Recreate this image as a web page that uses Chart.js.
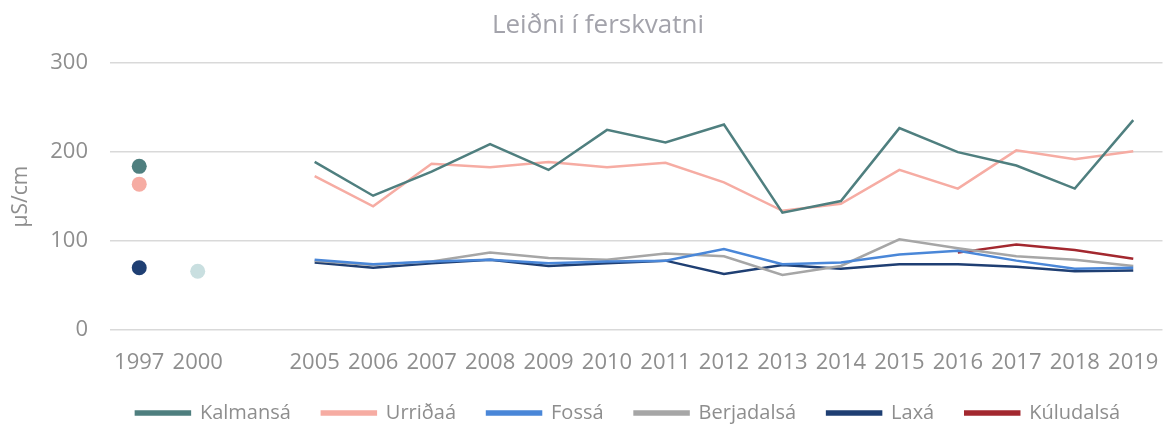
<!DOCTYPE html>
<html>
<head>
<meta charset="utf-8">
<script src="https://cdn.jsdelivr.net/npm/chart.js@4"></script>
<style>
  html, body { margin: 0; padding: 0; background: #fff; }
  #wrap { width: 1170px; height: 425px; }
</style>
</head>
<body>
<div id="wrap"><canvas id="chart_leidni"></canvas></div>
<script>
// ár, bil á milli 2000 og 2005 er autt sæti
const years = ['1997', '2000', '', '2005', '2006', '2007', '2008', '2009', '2010', '2011', '2012', '2013', '2014', '2015', '2016', '2017', '2018', '2019'];

const kalmansa   = [184, null, null, 189, 151, 178, 209, 180, 225, 211, 231, 132, 145, 227, 200, 185, 159, 236];
const urridaa    = [164, null, null, 173, 139, 187, 183, 189, 183, 188, 166, 134, 142, 180, 159, 202, 192, 201];
const fossa      = [null, null, null, 79, 74, 77, 79, 75, 77, 78, 91, 74, 76, 85, 89, 78, 69, 70];
const berjadalsa = [null, null, null, 78, 73, 77, 87, 81, 79, 86, 83, 62, 72, 102, 92, 83, 79, 72];
const laxa       = [70, null, null, 76, 70, 75, 79, 72, 75, 78, 63, 73, 69, 74, 74, 71, 66, 67];
const kuludalsa  = [null, null, null, null, null, null, null, null, null, null, null, null, null, null, 87, 96, 90, 80];
const annad2000  = [null, 66, null, null, null, null, null, null, null, null, null, null, null, null, null, null, null, null];

const yTicks = [0, 100, 200, 300];

const textGray = '#8e8e8e';

// punktur bara teiknaður ef hann stendur einn (engir nágrannar)
const isolatedRadius = (ctx) => {
    const d = ctx.dataset.data; const i = ctx.dataIndex;
    if (d[i] === null) return 0;
    const prev = i > 0 ? d[i - 1] : null;
    const next = i < d.length - 1 ? d[i + 1] : null;
    return (prev === null && next === null) ? 7.5 : 0;
}

const makeSet = (label, data, color, width) => {
    return {
        label: label,
        data: data,
        borderColor: color,
        backgroundColor: color,
        pointBackgroundColor: color,
        pointBorderColor: color,
        borderWidth: width,
        pointRadius: isolatedRadius,
        pointBorderWidth: 0,
        spanGaps: false,
        tension: 0
    }
}

const datasets = [
    makeSet('Kalmansá', kalmansa, '#4f7f7f', 2.5),
    makeSet('Urriðaá', urridaa, '#f6aca3', 2.5),
    makeSet('Fossá', fossa, '#4a87d8', 2.5),
    makeSet('Berjadalsá', berjadalsa, '#a6a6a6', 2.5),
    makeSet('Laxá', laxa, '#1f3f73', 2.5),
    makeSet('Kúludalsá', kuludalsa, '#a3282f', 2.5),
    makeSet('', annad2000, '#c9dfe0', 2.5)
];

// færa skýringar og titil aðeins til hægri, eins og í fyrirmyndinni
const boxShift = {
    id: 'boxShift',
    afterLayout: (chart) => {
        chart.legend.left += 42;
        chart.legend.right += 42;
        chart.titleBlock.left += 12;
        chart.titleBlock.right += 12;
    }
}

const config = {
    type: 'line',
    data: { labels: years, datasets: datasets },
    plugins: [boxShift],
    options: {
        responsive: false,
        animation: false,
        events: [],
        layout: { padding: { left: 4, right: 2, top: 0, bottom: -8 } },
        plugins: {
            title: {
                display: true,
                text: 'Leiðni í ferskvatni',
                color: '#a3a3ab',
                font: { family: 'Open Sans', size: 26, weight: 'normal' },
                padding: { top: 10, bottom: 22 }
            },
            legend: {
                position: 'bottom',
                labels: {
                    filter: (item) => item.text !== '',
                    color: textGray,
                    boxWidth: 54,
                    boxHeight: 3,
                    padding: 31,
                    font: { family: 'Open Sans', size: 20 }
                }
            },
            tooltip: { enabled: false }
        },
        scales: {
            x: {
                offset: true,
                afterFit: (axis) => {
                    axis.height = 42;
                    axis.paddingLeft = 0;
                    axis.paddingRight = 0;
                },
                grid: { display: false },
                border: { display: false },
                ticks: {
                    color: textGray,
                    font: { family: 'Open Sans', size: 22 },
                    padding: 12,
                    maxRotation: 0,
                    autoSkip: false
                }
            },
            y: {
                min: 0,
                max: 300,
                afterBuildTicks: (axis) => { axis.ticks = yTicks.map(v => ({ value: v })); },
                afterFit: (axis) => { axis.width = 106; },
                grid: { color: '#d9d9d9', lineWidth: 1.5, drawTicks: false },
                border: { display: false },
                ticks: {
                    color: textGray,
                    font: { family: 'Open Sans', size: 22 },
                    padding: 22
                },
                title: {
                    display: true,
                    text: 'µS/cm',
                    color: textGray,
                    font: { family: 'Open Sans', size: 21 },
                    padding: { top: 4, bottom: 17 }
                }
            }
        }
    }
};

const canvas = document.getElementById('chart_leidni');
canvas.width = 1170; canvas.height = 425;
const myChart = new Chart(canvas, config);
</script>
</body>
</html>
